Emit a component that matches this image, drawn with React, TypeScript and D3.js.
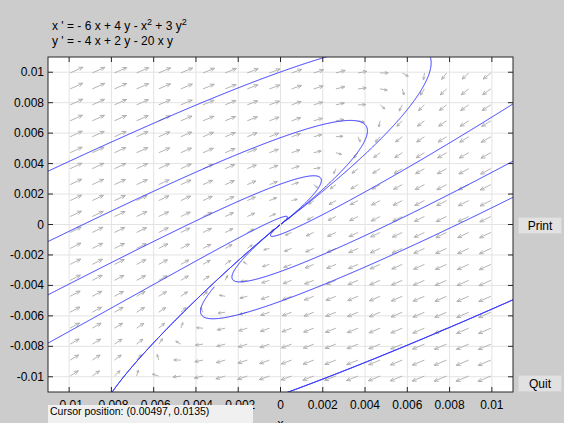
import React, { useEffect, useRef } from 'react';
import * as d3 from 'd3';

// x' and y' coefficients for the terms [x, y, x^2, y^2, x*y], as in the title
const xPrimeCoefs = [-6, 4, -1, 3, 0];
const yPrimeCoefs = [-4, 2, 0, 0, -20];

const xDomain = [-0.011, 0.011];
const yDomain = [-0.011, 0.011];
const xTicks = [-0.01, -0.008, -0.006, -0.004, -0.002, 0, 0.002, 0.004, 0.006, 0.008, 0.01];
const yTicks = [-0.01, -0.008, -0.006, -0.004, -0.002, 0, 0.002, 0.004, 0.006, 0.008, 0.01];
const tickLabels = ['-0.01', '-0.008', '-0.006', '-0.004', '-0.002', '0', '0.002', '0.004', '0.006', '0.008', '0.01'];

// points picked on each solution curve
const seedX = [-0.011, -0.011, -0.011, -0.011, -0.00796, -0.00313, 0.011, 0.011, 0.011];
const seedY = [0.0035, -0.00112, -0.00462, -0.00779, -0.011, -0.00409, 0.00416, 0.00792, -0.00495];
const seedMode = ['both', 'both', 'both', 'both', 'both', 'back', 'both', 'both', 'both'];

const arrowCount = 20;
const cursorText = 'Cursor position:  (0.00497, 0.0135)';

const W = 564;
const H = 423;
const plot = { left: 48, top: 57, right: 513, bottom: 392 };

function field(x: number, y: number): [number, number] {
  const [a, b, c, d, e] = xPrimeCoefs;
  const [f, g, h, i, j] = yPrimeCoefs;
  return [
    a * x + b * y + c * x * x + d * y * y + e * x * y,
    f * x + g * y + h * x * x + i * y * y + j * x * y,
  ];
}

function trace(x0: number, y0: number, dir: number): [number, number][] {
  const h = 0.00003;
  const step = (x: number, y: number): [number, number] => {
    const [u, v] = field(x, y);
    const n = Math.hypot(u, v) || 1;
    return [(dir * u) / n, (dir * v) / n];
  };
  const pts: [number, number][] = [[x0, y0]];
  let x = x0, y = y0;
  for (let k = 0; k < 6000; k++) {
    const k1 = step(x, y);
    const k2 = step(x + (h / 2) * k1[0], y + (h / 2) * k1[1]);
    const k3 = step(x + (h / 2) * k2[0], y + (h / 2) * k2[1]);
    const k4 = step(x + h * k3[0], y + h * k3[1]);
    x += (h / 6) * (k1[0] + 2 * k2[0] + 2 * k3[0] + k4[0]);
    y += (h / 6) * (k1[1] + 2 * k2[1] + 2 * k3[1] + k4[1]);
    pts.push([x, y]);
    if (Math.abs(x) > 0.03 || Math.abs(y) > 0.03) break;
    if (Math.hypot(x, y) < 2 * h) break;
  }
  return pts;
}

const App = () => {
  const ref = useRef<SVGSVGElement>(null);

  useEffect(() => {
    const svg = d3.select(ref.current);
    svg.selectAll('*').remove();

    const x = d3.scaleLinear().domain(xDomain).range([plot.left, plot.right]);
    const y = d3.scaleLinear().domain(yDomain).range([plot.bottom, plot.top]);
    const font = 'Liberation Sans, Arial, sans-serif';

    svg.append('rect').attr('width', W).attr('height', H).attr('fill', '#cccccc');

    // title: the equations
    const title = svg.append('text').attr('font-family', font).attr('font-size', 12).attr('fill', '#000');
    const l1 = title.append('tspan').attr('x', 52).attr('y', 30);
    l1.append('tspan').text("x ' = - 6 x + 4 y - x");
    l1.append('tspan').attr('dy', -5).attr('font-size', 9).text('2');
    l1.append('tspan').attr('dy', 5).text(' + 3 y');
    l1.append('tspan').attr('dy', -5).attr('font-size', 9).text('2');
    title.append('tspan').attr('x', 52).attr('y', 45).text("y ' = - 4 x + 2 y - 20 x y");

    svg.append('rect')
      .attr('x', plot.left).attr('y', plot.top)
      .attr('width', plot.right - plot.left).attr('height', plot.bottom - plot.top)
      .attr('fill', '#fff');

    // grid
    svg.append('g').selectAll('line').data(xTicks).join('line')
      .attr('x1', d => x(d)).attr('x2', d => x(d))
      .attr('y1', plot.top).attr('y2', plot.bottom)
      .attr('stroke', '#e3e3e3');
    svg.append('g').selectAll('line').data(yTicks).join('line')
      .attr('y1', d => y(d)).attr('y2', d => y(d))
      .attr('x1', plot.left).attr('x2', plot.right)
      .attr('stroke', '#e3e3e3');

    // direction field
    const kx = (plot.right - plot.left) / (xDomain[1] - xDomain[0]);
    const ky = (plot.bottom - plot.top) / (yDomain[1] - yDomain[0]);
    const gx = d3.range(1, arrowCount + 1).map(k => xDomain[0] + (k * (xDomain[1] - xDomain[0])) / (arrowCount + 1));
    const gy = d3.range(1, arrowCount + 1).map(k => yDomain[0] + (k * (yDomain[1] - yDomain[0])) / (arrowCount + 1));
    const arrows: { px: number; py: number; vx: number; vy: number; m: number }[] = [];
    gx.forEach(ax => gy.forEach(ay => {
      const [u, v] = field(ax, ay);
      const vx = u * kx, vy = -v * ky;
      arrows.push({ px: x(ax), py: y(ay), vx, vy, m: Math.hypot(vx, vy) });
    }));
    const mMax = d3.max(arrows, d => d.m) || 1;
    const arrowPath = (d: typeof arrows[0]) => {
      if (d.m === 0) return '';
      const len = 14 * Math.pow(d.m / mMax, 0.25);
      const ux = d.vx / d.m, uy = d.vy / d.m;
      const hx = d.px + ux * len, hy = d.py + uy * len;
      const b = Math.min(4.5, len * 0.45);
      const ang = 0.42;
      const c = Math.cos(ang), s = Math.sin(ang);
      const b1x = hx - b * (ux * c - uy * s), b1y = hy - b * (uy * c + ux * s);
      const b2x = hx - b * (ux * c + uy * s), b2y = hy - b * (uy * c - ux * s);
      return `M${d.px},${d.py}L${hx},${hy}M${b1x},${b1y}L${hx},${hy}L${b2x},${b2y}`;
    };
    svg.append('g').selectAll('path').data(arrows).join('path')
      .attr('d', arrowPath)
      .attr('fill', 'none')
      .attr('stroke', '#ababab')
      .attr('stroke-width', 0.9);

    // solution curves
    svg.append('clipPath').attr('id', 'plotclip').append('rect')
      .attr('x', plot.left).attr('y', plot.top)
      .attr('width', plot.right - plot.left).attr('height', plot.bottom - plot.top);
    const line = d3.line<[number, number]>().x(d => x(d[0])).y(d => y(d[1]));
    const curves: [number, number][][] = [];
    seedX.forEach((sx, i) => {
      const back = trace(sx, seedY[i], -1).reverse();
      const fwd = seedMode[i] === 'both' ? trace(sx, seedY[i], 1).slice(1) : [];
      curves.push(back.concat(fwd));
    });
    svg.append('g').attr('clip-path', 'url(#plotclip)')
      .selectAll('path').data(curves).join('path')
      .attr('d', d => line(d))
      .attr('fill', 'none')
      .attr('stroke', '#2b2bff')
      .attr('stroke-width', 1);

    // frame and inward ticks
    svg.append('rect')
      .attr('x', plot.left).attr('y', plot.top)
      .attr('width', plot.right - plot.left).attr('height', plot.bottom - plot.top)
      .attr('fill', 'none').attr('stroke', '#262626');
    const tl = 5;
    const ticks = svg.append('g').attr('stroke', '#262626');
    xTicks.forEach(t => {
      ticks.append('line').attr('x1', x(t)).attr('x2', x(t)).attr('y1', plot.bottom).attr('y2', plot.bottom - tl);
      ticks.append('line').attr('x1', x(t)).attr('x2', x(t)).attr('y1', plot.top).attr('y2', plot.top + tl);
    });
    yTicks.forEach(t => {
      ticks.append('line').attr('y1', y(t)).attr('y2', y(t)).attr('x1', plot.left).attr('x2', plot.left + tl);
      ticks.append('line').attr('y1', y(t)).attr('y2', y(t)).attr('x1', plot.right).attr('x2', plot.right - tl);
    });

    svg.append('g').selectAll('text').data(yTicks).join('text')
      .attr('x', plot.left - 4).attr('y', d => y(d) + 4)
      .attr('text-anchor', 'end')
      .attr('font-family', font).attr('font-size', 12)
      .text((d, i) => tickLabels[i]);
    svg.append('g').selectAll('text').data(xTicks).join('text')
      .attr('x', d => x(d)).attr('y', plot.bottom + 17)
      .attr('text-anchor', 'middle')
      .attr('font-family', font).attr('font-size', 12)
      .text((d, i) => tickLabels[i]);
    svg.append('text').attr('x', x(0)).attr('y', 428)
      .attr('text-anchor', 'middle').attr('font-family', font).attr('font-size', 12).text('x');

    // cursor readout (covers the lower half of the x tick labels, as in the window)
    svg.append('rect').attr('x', 48).attr('y', 405).attr('width', 205).attr('height', 18).attr('fill', '#f0f0f0');
    svg.append('text').attr('x', 50).attr('y', 415)
      .attr('font-family', font).attr('font-size', 10.5).text(cursorText);

    // buttons
    const buttons = [{ label: 'Print', top: 217 }, { label: 'Quit', top: 375 }];
    buttons.forEach(b => {
      svg.append('rect').attr('x', 518.5).attr('y', b.top + 0.5).attr('width', 43).attr('height', 16)
        .attr('fill', '#e1e1e1').attr('stroke', '#d4d4d4');
      svg.append('text').attr('x', 540).attr('y', b.top + 12.5)
        .attr('text-anchor', 'middle').attr('font-family', font).attr('font-size', 12).text(b.label);
    });
  }, []);

  return (
    <svg ref={ref} width={W} height={H} style={{ position: 'absolute', left: 0, top: 0 }} />
  );
};

export default App;
